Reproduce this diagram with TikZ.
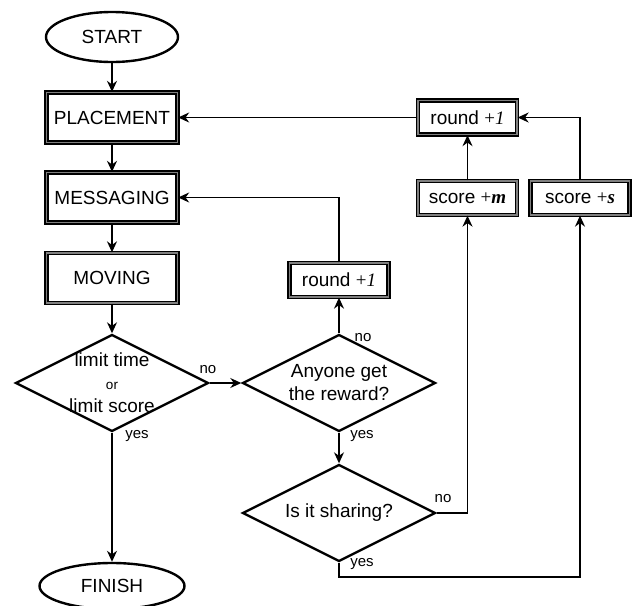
\documentclass[tikz,border=0pt]{standalone}
\usepackage{fontspec}
\setmainfont{Liberation Sans}
\newfontfamily\timesfont{Liberation Serif}
\usetikzlibrary{shapes.geometric,arrows.meta}
\tikzset{
	terminal/.style={ellipse,draw,line width=1.2pt,inner sep=0pt},
	process/.style={rectangle,draw=black,line width=0.65pt,double=black!50,double distance=0.8pt,inner sep=0pt,minimum width=65.5pt,minimum height=25pt},
	counter/.style={process,minimum width=49.5pt,minimum height=17pt},
	decision/.style={diamond,draw,line width=1.2pt,inner sep=0pt,aspect=2,minimum width=96.5pt,minimum height=48.5pt},
	flow/.style={line width=0.75pt,-{Stealth[length=5.5pt,width=5pt]}},
	answer/.style={font=\fontsize{7.5}{9}\selectfont,inner sep=0pt}
}
\newcommand{\plusone}{{\timesfont +\textit{1}}}
\newcommand{\plusbold}[1]{{\timesfont +\textbf{\textit{#1}}}}
\begin{document}
\begin{tikzpicture}[x=0.5pt,y=-0.5pt,font=\fontsize{9.5}{11.5}\selectfont]
		\useasboundingbox (0,0) rectangle (633,606);
		% main column
		\node[terminal,minimum width=66pt,minimum height=25pt] (start) at (112,37) {START};
		\node[process] (placement) at (112,117.5) {PLACEMENT};
		\node[process] (messaging) at (112,197.5) {MESSAGING};
		\node[process] (moving) at (112,278) {MOVING};
		\node[decision,label={[align=center]center:limit time\\{\fontsize{6.75}{8}\selectfont or}\\limit score}] (limit) at (112,383) {};
		\node[terminal,minimum width=72.5pt,minimum height=23pt] (finish) at (112,586) {FINISH};
		% reward column
		\node[decision,label={[align=center]center:Anyone get\\the reward?}] (reward) at (339,383) {};
		\node[decision,label={center:Is it sharing?}] (share) at (339,513) {};
		\node[counter] (roundlow) at (339,280) {round \plusone};
		\node[counter] (roundup) at (467.5,117.5) {round \plusone};
		\node[counter] (scorem) at (467.5,198) {score \plusbold{m}};
		\node[counter] (scores) at (580,198) {score \plusbold{s}};
		\coordinate (bend) at (339,577);
		% connectors
		\draw[flow] (start) -- (placement);
		\draw[flow] (placement) -- (messaging);
		\draw[flow] (messaging) -- (moving);
		\draw[flow] (moving) -- (limit);
		\draw[flow] (limit) -- (reward);
		\draw[flow] (limit) -- (finish);
		\draw[flow] (reward) -- (roundlow);
		\draw[flow] (roundlow) |- (messaging);
		\draw[flow] (reward) -- (share);
		\draw[flow] (share.east) -| (scorem);
		\draw[flow] (scorem) -- (roundup);
		\draw[flow] (roundup) -- (placement);
		\draw[flow] (share.south) -- (bend) -| (scores);
		\draw[flow] (scores) |- (roundup);
		% answers
		\node[answer] (limitno) at (208,370) {no};
		\node[answer] (limityes) at (137,436) {yes};
		\node[answer] (rewardno) at (363,338) {no};
		\node[answer] (rewardyes) at (362,436) {yes};
		\node[answer] (shareno) at (443,499) {no};
		\node[answer] (shareyes) at (362,564) {yes};
	\end{tikzpicture}
\end{document}
